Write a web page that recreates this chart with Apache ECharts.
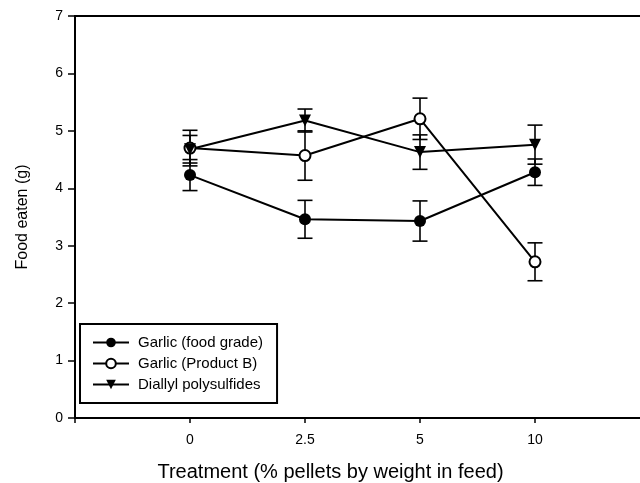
<!DOCTYPE html>
<html>
<head>
<meta charset="utf-8">
<script src="https://cdn.jsdelivr.net/npm/echarts@6/dist/echarts.min.js"></script>
<style>
  html, body { margin: 0; padding: 0; background: #fff; }
  #chart { width: 640px; height: 483px; }
</style>
</head>
<body>
<div id="chart"></div>
<script>
// treatments (% pellets by weight in feed)
var treatments = ['0', '2.5', '5', '10']

var foodGrade = [4.23, 3.46, 3.43, 4.28]
var foodGradeErr = [0.27, 0.33, 0.35, 0.23]

var productB = [4.70, 4.57, 5.21, 2.72]
var productBErr = [0.31, 0.43, 0.36, 0.33]

var diallyl = [4.68, 5.18, 4.63, 4.76]
var diallylErr = [0.24, 0.20, 0.30, 0.34]

var yTicks = [0, 1, 2, 3, 4, 5, 6, 7]

var font = 'Liberation Sans, Arial, sans-serif'

function pts(vals) {
  return vals.map(function (v, i) { return [i, v] })
}

function errData(vals, errs) {
  return vals.map(function (v, i) { return [i, v - errs[i], v + errs[i]] })
}

// error bar with caps
function renderErr(params, api) {
  var lo = api.coord([api.value(0), api.value(1)])
  var hi = api.coord([api.value(0), api.value(2)])
  var w = 7.5
  var st = { stroke: '#000', lineWidth: 1.6 }
  return {
    type: 'group',
    children: [
      { type: 'line', shape: { x1: lo[0], y1: lo[1], x2: hi[0], y2: hi[1] }, style: st },
      { type: 'line', shape: { x1: lo[0] - w, y1: lo[1], x2: lo[0] + w, y2: lo[1] }, style: st },
      { type: 'line', shape: { x1: hi[0] - w, y1: hi[1], x2: hi[0] + w, y2: hi[1] }, style: st }
    ]
  }
}

function errSeries(vals, errs) {
  return {
    type: 'custom',
    renderItem: renderErr,
    data: errData(vals, errs),
    encode: { x: 0, y: [1, 2] },
    z: 1,
    silent: true
  }
}

var chart = echarts.init(document.getElementById('chart'))

chart.setOption({
  animation: false,
  textStyle: { fontFamily: font, color: '#000' },
  grid: {
    left: 75,
    top: 16,
    width: 575,
    height: 402,
    outerBoundsMode: 'none',
    containLabel: false,
    show: true,
    borderColor: '#000',
    borderWidth: 2
  },
  legend: {
    data: ['Garlic (food grade)', 'Garlic (Product B)', 'Diallyl polysulfides'],
    orient: 'vertical',
    left: 80,
    top: 324,
    padding: [11, 14, 11, 12],
    itemWidth: 36,
    itemHeight: 12,
    itemGap: 6,
    borderColor: '#000',
    borderWidth: 2,
    textStyle: { fontFamily: font, fontSize: 15, color: '#000', padding: [0, 0, 0, 4] }
  },
  xAxis: {
    type: 'value',
    min: -1,
    max: 4,
    interval: 1,
    name: 'Treatment (% pellets by weight in feed)',
    nameLocation: 'middle',
    nameGap: 44,
    nameTextStyle: { fontFamily: font, fontSize: 20, color: '#000', padding: [0, 64, 0, 0] },
    axisLine: { onZero: false, lineStyle: { color: '#000', width: 2 } },
    axisTick: { length: 5, lineStyle: { color: '#000', width: 1.5 } },
    axisLabel: {
      margin: 15,
      fontSize: 14,
      color: '#000',
      formatter: function (v) { return treatments[v] !== undefined ? treatments[v] : '' }
    },
    splitLine: { show: false }
  },
  yAxis: {
    type: 'value',
    min: yTicks[0],
    max: yTicks[yTicks.length - 1],
    interval: 1,
    name: 'Food eaten (g)',
    nameLocation: 'middle',
    nameGap: 44,
    nameTextStyle: { fontFamily: font, fontSize: 16, color: '#000' },
    axisLine: { show: true, onZero: false, lineStyle: { color: '#000', width: 1.5 } },
    axisTick: { show: true, length: 7, lineStyle: { color: '#000', width: 1.5 } },
    axisLabel: { margin: 12, fontSize: 14, color: '#000' },
    splitLine: { show: false }
  },
  series: [
    errSeries(foodGrade, foodGradeErr),
    errSeries(productB, productBErr),
    errSeries(diallyl, diallylErr),
    {
      name: 'Garlic (food grade)',
      type: 'line',
      data: pts(foodGrade),
      symbol: 'circle',
      symbolSize: 12,
      lineStyle: { color: '#000', width: 2 },
      itemStyle: { color: '#000' },
      z: 3
    },
    {
      name: 'Garlic (Product B)',
      type: 'line',
      data: pts(productB),
      symbol: 'emptyCircle',
      symbolSize: 11,
      lineStyle: { color: '#000', width: 2 },
      itemStyle: { color: '#000', borderWidth: 2 },
      z: 3
    },
    {
      name: 'Diallyl polysulfides',
      type: 'line',
      data: pts(diallyl),
      symbol: 'triangle',
      symbolRotate: 180,
      symbolSize: 12,
      lineStyle: { color: '#000', width: 2 },
      itemStyle: { color: '#000' },
      z: 3
    }
  ]
})
</script>
</body>
</html>
